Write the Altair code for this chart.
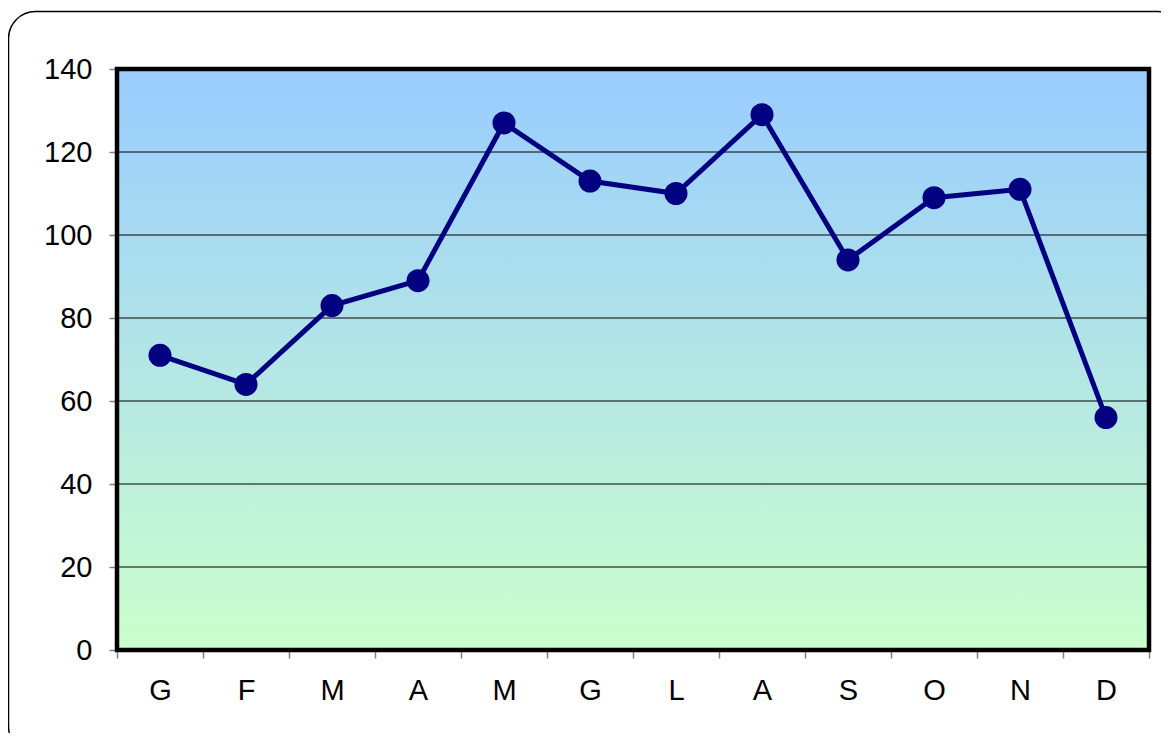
import altair as alt
import pandas as pd
import json

months = ["G", "F", "M", "A", "M", "G", "L", "A", "S", "O", "N", "D"]
values = [71, 64, 83, 89, 127, 113, 110, 129, 94, 109, 111, 56]
y_ticks = [0, 20, 40, 60, 80, 100, 120, 140]
grid_vals = [20, 40, 60, 80, 100, 120]

W, H = 1032, 581
FONT = "Liberation Sans"

df = pd.DataFrame({"pos": list(range(len(months))), "month": months, "value": values})
grid_df = pd.DataFrame({"v": grid_vals})
one = pd.DataFrame({"a": [0]})

label_expr = json.dumps(months) + "[datum.value]"

x_enc = alt.X("pos:O",
              scale=alt.Scale(type="band", paddingInner=0, paddingOuter=0),
              axis=alt.Axis(title=None, labelExpr=label_expr, labelAngle=0,
                            labelFont=FONT, labelFontSize=29, labelColor="black",
                            labelPadding=18, tickBand="extent", tickSize=8,
                            tickColor="#808080", tickWidth=1.5, domain=False, grid=False))
y_scale = alt.Scale(domain=[0, 140], nice=False)
y_enc = alt.Y("value:Q", scale=y_scale,
              axis=alt.Axis(title=None, values=y_ticks, labelFont=FONT, labelFontSize=29,
                            labelColor="black", labelPadding=17, tickSize=8,
                            tickColor="#808080", tickWidth=1.5, domain=False, grid=False))

outer = alt.Chart(one).mark_rect(fillOpacity=0, stroke="black", strokeWidth=1.5,
                                 cornerRadius=27).encode(
    x=alt.value(-108.5), x2=alt.value(1068), y=alt.value(-57.5), y2=alt.value(684))

grad = alt.LinearGradient(gradient="linear",
                          stops=[alt.GradientStop(color="#99CCFF", offset=0),
                                 alt.GradientStop(color="#CCFFCC", offset=1)],
                          x1=0, x2=0, y1=0, y2=1)
bg = alt.Chart(one).mark_rect(fill=grad).encode(
    x=alt.value(0), x2=alt.value(W), y=alt.value(0), y2=alt.value(H))

grid = alt.Chart(grid_df).mark_rule(color="black", strokeWidth=1.2).encode(
    y=alt.Y("v:Q", scale=y_scale), x=alt.value(0), x2=alt.value(W))

line = alt.Chart(df).mark_line(color="#000080", strokeWidth=5).encode(x=x_enc, y=y_enc)
pts = alt.Chart(df).mark_circle(color="#000080", size=530, opacity=1).encode(x=x_enc, y=y_enc)

border = alt.Chart(one).mark_rect(fillOpacity=0, stroke="black", strokeWidth=4.5).encode(
    x=alt.value(0), x2=alt.value(W), y=alt.value(0), y2=alt.value(H))

chart = alt.layer(outer, bg, grid, line, pts, border).properties(
    width=W, height=H,
    autosize=alt.AutoSizeParams(type="none"),
    padding={"left": 109, "top": 61, "right": 12, "bottom": 83},
).configure_view(stroke=None).configure(background="white")

chart.save("out.html", embed_options={"renderer": "svg", "actions": False})
